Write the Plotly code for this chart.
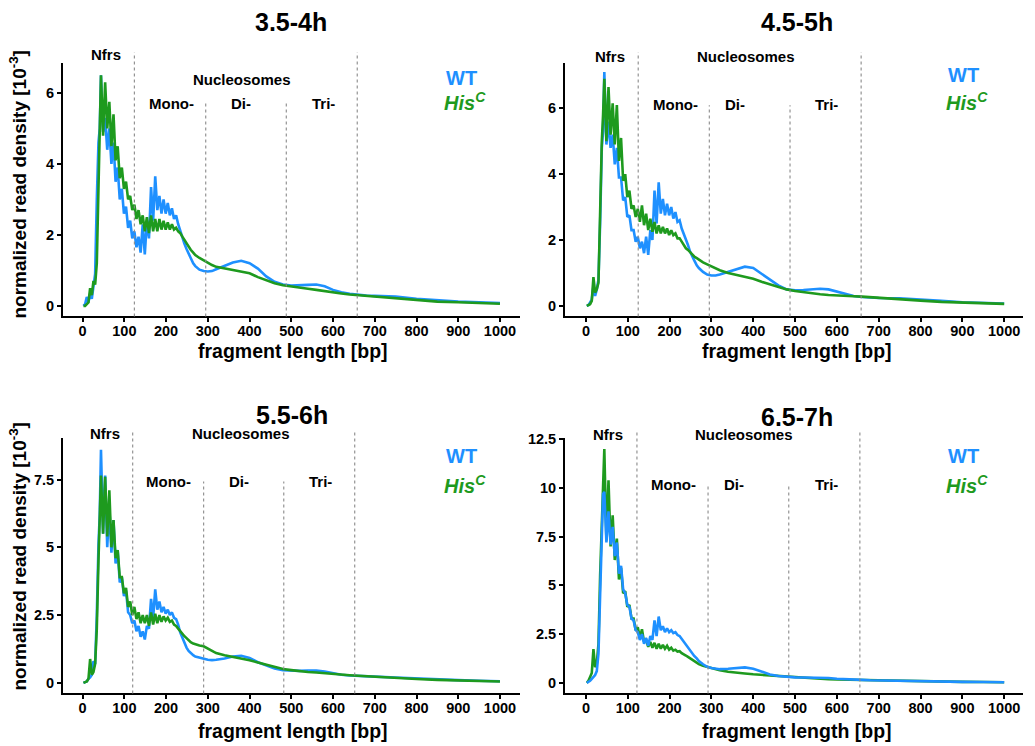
import plotly.graph_objects as go

# ---------------- data (fragment length in bp, density in 10^-3) ----------------
FRAG_BP = [2, 6, 10, 14, 18, 22, 26, 30, 34, 38, 41,
           44, 49, 54, 59, 64, 69, 74, 79, 84, 89, 94, 99, 104, 109, 114, 119,
           124, 129, 134, 139, 144, 149, 154, 159, 164, 169, 174, 179, 184, 189,
           194, 199, 204, 209, 214, 219, 224, 229, 234, 239, 244, 249, 254, 259,
           265, 270, 280, 290, 300, 310, 320, 340, 360, 380, 400, 420, 440, 460,
           480, 500, 520, 540, 560, 580, 600, 620, 640, 660, 680, 700, 750, 800,
           850, 900, 950, 1000]

WT_35_4 = [0, 0.05, 0.25, 0.1, 0.35, 0.2, 0.55, 0.9, 3.0, 4.6, 5.0,
           6.5, 4.9, 5.3, 4.4, 5.0, 4.0, 4.6, 3.5, 3.9, 3.0, 3.3, 2.6, 2.8, 2.2, 2.4, 1.9,
           2.1, 1.65, 1.95, 1.5, 2.3, 1.45, 2.4, 1.9, 3.35, 2.4, 3.65, 2.7, 3.1, 2.6,
           3.0, 2.6, 2.9, 2.55, 2.75, 2.45, 2.55, 2.3, 2.1, 1.95, 1.75, 1.6, 1.45, 1.35,
           1.2, 1.12, 1.02, 0.98, 0.97, 0.98, 1.03, 1.12, 1.22, 1.27, 1.2, 1.05, 0.83, 0.68,
           0.6, 0.57, 0.57, 0.59, 0.6, 0.55, 0.45, 0.38, 0.34, 0.31, 0.29, 0.28, 0.26, 0.2,
           0.15, 0.12, 0.1, 0.08]
HIS_35_4 = [0, 0, 0.05, 0.1, 0.5, 0.3, 0.7, 0.6, 1.2, 3.5, 5.3,
            6.5, 4.8, 6.3, 5.0, 5.75, 4.5, 5.4, 4.1, 4.5, 3.6, 3.9, 3.3, 3.5, 3.0, 3.1, 2.7,
            2.85, 2.45, 2.7, 2.3, 2.55, 2.1, 2.5, 2.05, 2.55, 2.1, 2.45, 2.1, 2.45, 2.15,
            2.4, 2.15, 2.35, 2.15, 2.3, 2.15, 2.2, 2.1, 2.05, 1.95, 1.85, 1.78, 1.65, 1.58,
            1.5, 1.43, 1.35, 1.28, 1.22, 1.15, 1.1, 1.06, 1.01, 0.96, 0.92, 0.81, 0.72, 0.64,
            0.58, 0.54, 0.51, 0.48, 0.45, 0.41, 0.38, 0.35, 0.32, 0.3, 0.27, 0.25, 0.2, 0.15,
            0.12, 0.1, 0.08, 0.06]

WT_45_5 = [0, 0.02, 0.1, 0.2, 0.6, 0.3, 0.5, 0.8, 2.5, 4.8, 5.3,
           7.1, 4.9, 5.6, 4.8, 5.2, 4.3, 4.8, 3.9, 3.9, 3.2, 3.3, 2.7, 2.75, 2.3, 2.3, 1.95,
           2.1, 1.75, 1.95, 1.6, 2.1, 1.55, 2.3, 2.0, 3.5, 2.5, 3.75, 2.8, 3.25, 2.75,
           3.1, 2.75, 3.0, 2.65, 2.85, 2.55, 2.6, 2.35, 2.2, 2.0, 1.85, 1.65, 1.5, 1.38,
           1.23, 1.15, 1.03, 0.95, 0.92, 0.92, 0.95, 1.03, 1.12, 1.19, 1.15, 0.98, 0.8, 0.62,
           0.5, 0.47, 0.48, 0.5, 0.52, 0.5, 0.43, 0.35, 0.3, 0.27, 0.25, 0.24, 0.23, 0.2,
           0.15, 0.11, 0.09, 0.07]
HIS_45_5 = [0, 0.02, 0.05, 0.15, 0.87, 0.4, 0.5, 0.7, 3.0, 5.0, 5.8,
            6.9, 5.0, 6.65, 5.2, 6.15, 4.9, 6.1, 4.4, 5.1, 3.8, 4.0, 3.3, 3.5, 2.95, 3.05, 2.7,
            2.95, 2.55, 3.05, 2.45, 2.8, 2.3, 2.65, 2.25, 2.55, 2.2, 2.45, 2.2, 2.4, 2.2,
            2.35, 2.15, 2.3, 2.15, 2.2, 2.05, 2.05, 1.95, 1.85, 1.75, 1.7, 1.63, 1.55, 1.5,
            1.45, 1.4, 1.32, 1.26, 1.2, 1.13, 1.08, 1.0, 0.94, 0.88, 0.82, 0.73, 0.65, 0.57,
            0.5, 0.45, 0.41, 0.38, 0.35, 0.33, 0.31, 0.3, 0.29, 0.28, 0.26, 0.24, 0.2, 0.16,
            0.12, 0.1, 0.08, 0.06]

WT_55_6 = [0, 0.02, 0.05, 0.15, 0.2, 0.3, 0.8, 0.7, 2.5, 5.1, 6.2,
           8.6, 5.5, 7.65, 5.0, 6.5, 4.8, 6.0, 4.4, 4.9, 3.7, 3.9, 3.2, 3.4, 2.6, 2.5, 2.2,
           2.3, 1.9, 2.1, 1.7, 1.9, 1.6, 2.1, 2.0, 3.1, 2.4, 3.45, 2.7, 3.0, 2.6,
           2.8, 2.55, 2.7, 2.5, 2.6, 2.4, 2.35, 2.15, 1.85, 1.65, 1.45, 1.3, 1.18, 1.1,
           1.02, 0.97, 0.93, 0.9, 0.85, 0.84, 0.85, 0.9, 0.97, 1.0, 0.92, 0.76, 0.63, 0.53,
           0.47, 0.45, 0.44, 0.45, 0.45, 0.42, 0.36, 0.3, 0.27, 0.25, 0.24, 0.23, 0.2, 0.16,
           0.12, 0.1, 0.08, 0.06]
HIS_55_6 = [0, 0.02, 0.05, 0.15, 0.88, 0.3, 0.4, 0.7, 2.0, 4.5, 5.8,
            7.65, 5.5, 7.6, 5.4, 7.1, 5.0, 6.0, 4.6, 4.9, 3.9, 3.9, 3.3, 3.5, 2.8, 3.0, 2.5,
            2.8, 2.35, 2.6, 2.2, 2.5, 2.2, 2.5, 2.1, 2.6, 2.15, 2.55, 2.2, 2.5, 2.25,
            2.45, 2.3, 2.4, 2.25, 2.3, 2.15, 2.1, 2.0, 1.9, 1.82, 1.72, 1.65, 1.57, 1.5,
            1.45, 1.42, 1.38, 1.35, 1.27, 1.2, 1.1, 1.02, 0.96, 0.9, 0.83, 0.75, 0.67, 0.58,
            0.51, 0.47, 0.43, 0.4, 0.38, 0.35, 0.32, 0.3, 0.28, 0.26, 0.24, 0.22, 0.18, 0.14,
            0.11, 0.09, 0.07, 0.05]

WT_65_7 = [0, 0.05, 0.1, 0.2, 0.3, 0.4, 0.6, 1.5, 4.5, 8.0, 9.7,
           9.8, 7.2, 8.8, 7.1, 8.0, 6.5, 7.2, 5.6, 6.0, 4.8, 4.6, 4.0, 3.9, 3.3, 3.2, 2.7,
           2.6, 2.2, 2.5, 2.0, 2.3, 1.9, 2.4, 2.2, 3.2, 2.4, 3.4, 2.7, 2.9, 2.6,
           2.8, 2.6, 2.7, 2.55, 2.6, 2.45, 2.4, 2.25, 2.15, 1.95, 1.8, 1.65, 1.5, 1.38,
           1.25, 1.12, 0.95, 0.82, 0.76, 0.72, 0.7, 0.72, 0.76, 0.79, 0.72, 0.57, 0.43, 0.35,
           0.3, 0.28, 0.27, 0.27, 0.27, 0.25, 0.21, 0.18, 0.16, 0.15, 0.13, 0.12, 0.1, 0.08,
           0.06, 0.05, 0.04, 0.03]
HIS_65_7 = [0, 0.1, 0.3, 0.5, 1.73, 0.8, 1.0, 2.0, 5.5, 8.5, 10.5,
            12.0, 7.3, 10.4, 7.0, 8.6, 6.3, 7.4, 5.3, 5.9, 4.6, 4.7, 3.9, 4.0, 3.3, 3.3, 2.7,
            2.85, 2.3, 2.75, 2.1, 2.2, 1.85, 2.1, 1.8, 2.05, 1.75, 2.0, 1.75, 1.95, 1.75,
            1.9, 1.7, 1.8, 1.65, 1.7, 1.6, 1.62, 1.52, 1.48, 1.4, 1.33, 1.25, 1.17, 1.1,
            1.02, 0.96, 0.88, 0.82, 0.76, 0.71, 0.65, 0.57, 0.51, 0.48, 0.44, 0.41, 0.38, 0.33,
            0.3, 0.27, 0.24, 0.22, 0.2, 0.18, 0.17, 0.16, 0.15, 0.14, 0.13, 0.12, 0.1, 0.08,
            0.06, 0.05, 0.04, 0.03]

TITLES = ["3.5-4h", "4.5-5h", "5.5-6h", "6.5-7h"]
X_TICKS = [0, 100, 200, 300, 400, 500, 600, 700, 800, 900, 1000]
Y_TICKS = [[0, 2, 4, 6], [0, 2, 4, 6], [0, 2.5, 5, 7.5], [0, 2.5, 5, 7.5, 10, 12.5]]
Y_TICK_TEXT = [["0", "2", "4", "6"], ["0", "2", "4", "6"],
               ["0", "2.5", "5", "7.5"], ["0", "2.5", "5", "7.5", "10", "12.5"]]

# ---------------- styling / layout ----------------
W, H = 1035, 746
BLUE = "#1E90FF"
GREEN = "#1E9A1E"
FONT = "Liberation Sans, Arial, Helvetica, sans-serif"
DY = -4  # plotly's middle anchor sits slightly low compared with the reference


def fx(px):
    return px / W


def fy(py):
    return 1 - py / H


panels = [
    dict(wt=WT_35_4, his=HIS_35_4, xd=(63, 520), yd=(57.7, 313), xr=[-47, 1048], yr=[-0.30, 6.84],
         vl=[124, 295, 488, 658], vtop=(46.7, 98), vbot=313,
         lab=dict(nfrs=(106, 53.3), nuc=(242.3, 78.3), mono=(171, 102.7), di=(240.8, 102.7),
                  tri=(323.7, 102.7), wt=(461, 76.7), his=(465, 100)),
         title=(291, 20), xtitle=(293, 352), blue_top=False),
    dict(wt=WT_45_5, his=HIS_45_5, xd=(565, 1023), yd=(57.7, 313), xr=[-50, 1045], yr=[-0.323, 7.37],
         vl=[125, 295, 488, 658], vtop=(46.7, 100), vbot=313,
         lab=dict(nfrs=(610, 55), nuc=(746, 55), mono=(675, 103.3), di=(735.3, 103.3),
                  tri=(826, 103.3), wt=(963, 74), his=(967, 100)),
         title=(797, 20), xtitle=(797, 352), blue_top=False),
    dict(wt=WT_55_6, his=HIS_55_6, xd=(63, 520), yd=(435, 693), xr=[-47, 1048], yr=[-0.39, 9.05],
         vl=[120, 290, 482, 652], vtop=(427, 479.3), vbot=693,
         lab=dict(nfrs=(105, 435), nuc=(241, 435), mono=(168.3, 483.3), di=(239.3, 483.3),
                  tri=(320, 483.3), wt=(461, 458), his=(465, 486)),
         title=(292, 416), xtitle=(293, 735), blue_top=False),
    dict(wt=WT_65_7, his=HIS_65_7, xd=(565, 1023), yd=(435, 693), xr=[-50, 1045], yr=[-0.545, 12.59],
         vl=[122, 292, 485, 655], vtop=(430, 481.7), vbot=693,
         lab=dict(nfrs=(608.3, 436), nuc=(744.3, 436), mono=(673.3, 486.7), di=(734.3, 486.7),
                  tri=(826, 486.7), wt=(963, 458), his=(967, 486)),
         title=(797, 418), xtitle=(797, 735), blue_top=True),
]

fig = go.Figure()
annotations = []
shapes = []
layout_axes = {}


def add_text(px, py, text, size, color="black", angle=0):
    annotations.append(dict(x=fx(px), y=fy(py + DY), xref="paper", yref="paper", text=text,
                            showarrow=False, xanchor="center", yanchor="middle", textangle=angle,
                            font=dict(family=FONT, size=size, color=color)))


for i, p in enumerate(panels):
    n = i + 1
    xa = "x" if n == 1 else f"x{n}"
    ya = "y" if n == 1 else f"y{n}"
    xkey = "xaxis" if n == 1 else f"xaxis{n}"
    ykey = "yaxis" if n == 1 else f"yaxis{n}"

    wt_tr = go.Scatter(x=FRAG_BP, y=p["wt"], mode="lines", line=dict(color=BLUE, width=2.6),
                       xaxis=xa, yaxis=ya, showlegend=False, name="WT")
    his_tr = go.Scatter(x=FRAG_BP, y=p["his"], mode="lines", line=dict(color=GREEN, width=2.6),
                        xaxis=xa, yaxis=ya, showlegend=False, name="HisC")
    if p["blue_top"]:
        fig.add_trace(his_tr)
        fig.add_trace(wt_tr)
    else:
        fig.add_trace(wt_tr)
        fig.add_trace(his_tr)

    layout_axes[xkey] = dict(
        domain=[fx(p["xd"][0]), fx(p["xd"][1])], range=p["xr"], anchor=ya,
        tickvals=X_TICKS, ticktext=[str(t) for t in X_TICKS],
        showline=True, linecolor="black", linewidth=1.8, mirror=False,
        ticks="outside", ticklen=4, tickwidth=1.5, tickcolor="black",
        showgrid=False, zeroline=False, ticklabelstandoff=-4,
        tickfont=dict(family=FONT, size=14.5, color="black", weight="bold"),
    )
    layout_axes[ykey] = dict(
        domain=[fy(p["yd"][1]), fy(p["yd"][0])], range=p["yr"], anchor=xa,
        tickvals=Y_TICKS[i], ticktext=Y_TICK_TEXT[i],
        showline=True, linecolor="black", linewidth=1.8,
        ticks="outside", ticklen=4, tickwidth=1.5, tickcolor="black",
        showgrid=False, zeroline=False,
        tickfont=dict(family=FONT, size=14.5, color="black", weight="bold"),
    )

    # dotted region separators
    for j, xv in enumerate(p["vl"]):
        top = p["vtop"][0] if j in (0, 3) else p["vtop"][1]
        shapes.append(dict(type="line", xref=xa, yref="paper", x0=xv, x1=xv,
                           y0=fy(p["vbot"]), y1=fy(top),
                           line=dict(color="#8a8a8a", width=1.1, dash="dot")))

    lab = p["lab"]
    add_text(*lab["nfrs"], "<b>Nfrs</b>", 15)
    add_text(*lab["nuc"], "<b>Nucleosomes</b>", 15)
    add_text(*lab["mono"], "<b>Mono-</b>", 15)
    add_text(*lab["di"], "<b>Di-</b>", 15)
    add_text(*lab["tri"], "<b>Tri-</b>", 15)
    add_text(*lab["wt"], "<b>WT</b>", 20, BLUE)
    add_text(*lab["his"], "<b><i>His<sup>C</sup></i></b>", 20, GREEN)
    add_text(*p["title"], f"<b>{TITLES[i]}</b>", 25)
    add_text(*p["xtitle"], "<b>fragment length [bp]</b>", 19.5)

# y-axis titles (left column only)
for cy in (180, 555):
    add_text(18, cy - DY, "<b>normalized read density [10<sup>-3</sup>]</b>", 19, angle=-90)

fig.update_layout(
    width=W, height=H, margin=dict(l=0, r=0, t=0, b=0),
    paper_bgcolor="white", plot_bgcolor="white",
    annotations=annotations, shapes=shapes, showlegend=False,
    **layout_axes,
)

fig.write_html("out.html")
